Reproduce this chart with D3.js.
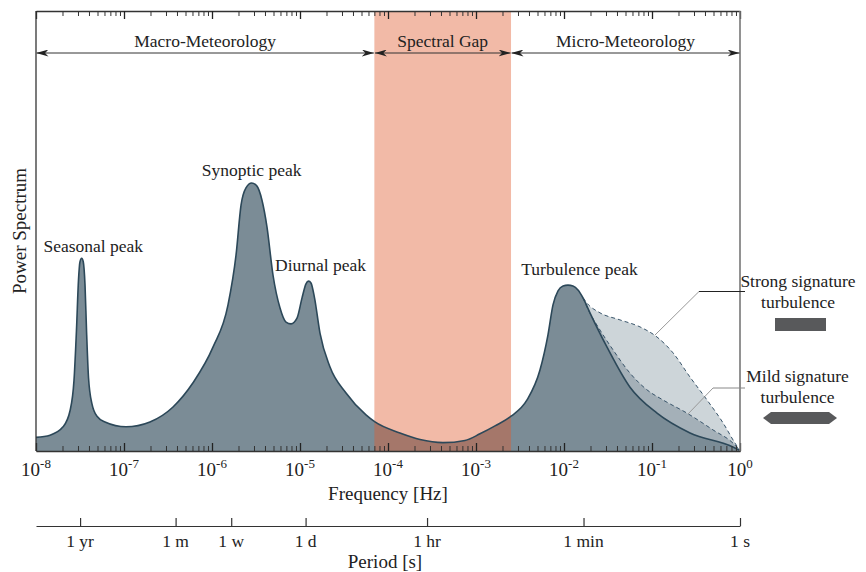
<!DOCTYPE html>
<meta charset="utf-8">
<style>
  body { margin: 0; background: #fff; }
  svg text { font-family: "Liberation Serif", "Times New Roman", serif; fill: #222; }
</style>
<body>
<div id="chart"></div>
<script src="https://cdn.jsdelivr.net/npm/d3@7"></script>
<script>
// log10 of frequency [Hz] and power (percent of plot height)
var mainLogF = [-8.000, -7.841, -7.693, -7.614, -7.568, -7.540, -7.517, -7.500, -7.481, -7.463,
  -7.443, -7.426, -7.403, -7.364, -7.307, -7.216, -6.977, -6.705, -6.443, -6.216,
  -5.989, -5.818, -5.727, -5.670, -5.614, -5.549, -5.489, -5.432, -5.375, -5.307,
  -5.227, -5.159, -5.102, -5.034, -4.977, -4.932, -4.903, -4.875, -4.835, -4.773,
  -4.659, -4.477, -4.250, -4.148, -3.864, -3.636, -3.375, -3.125, -2.955, -2.784,
  -2.602, -2.420, -2.273, -2.182, -2.125, -2.068, -2.011, -1.955, -1.898, -1.841,
  -1.784, -1.705, -1.511, -1.250, -0.943, -0.568, -0.080, 0.000];
var mainPower = [3.1, 3.6, 5.5, 9.1, 16.1, 27.5, 38.9, 43.0, 43.8, 43.0,
  37.7, 27.5, 16.6, 10.7, 7.9, 6.6, 5.5, 6.6, 10.0, 15.5,
  23.6, 33.2, 44.5, 55.9, 59.8, 60.9, 60.2, 57.0, 50.9, 40.0,
  32.5, 29.3, 28.9, 30.2, 34.8, 38.0, 38.6, 38.2, 34.8, 26.8,
  19.1, 13.2, 8.2, 6.6, 4.1, 2.6, 1.9, 2.4, 3.9, 5.7,
  7.9, 11.6, 18.4, 26.4, 33.2, 36.4, 37.5, 37.7, 37.5, 36.6,
  34.8, 31.4, 23.6, 14.5, 8.6, 4.1, 0.9, 0.1];

var strongLogF = [-1.784, -1.739, -1.591, -1.364, -1.136, -0.943, -0.761, -0.568, -0.375, -0.193, -0.057, 0.000];
var strongPower = [34.8, 33.6, 31.4, 29.8, 28.2, 25.9, 22.3, 16.8, 11.6, 6.4, 1.8, 0.1];

var mildLogF = [-1.784, -1.739, -1.591, -1.443, -1.250, -1.057, -0.875, -0.602, -0.307, -0.080, 0.000];
var mildPower = [34.8, 32.7, 27.5, 23.0, 17.7, 13.9, 11.6, 8.6, 4.8, 1.8, 0.1];

// spectral gap limits [Hz]
var gapRange = [7e-5, 2.5e-3];

var regions = [
  { name: "Macro-Meteorology", from: 1e-8, to: 7e-5 },
  { name: "Spectral Gap", from: 7e-5, to: 2.5e-3 },
  { name: "Micro-Meteorology", from: 2.5e-3, to: 1 }
];

var peakNames = ["Seasonal peak", "Synoptic peak", "Diurnal peak", "Turbulence peak"];
var peakLogF = [-7.349, -5.549, -4.767, -1.824];
var peakPower = [45.3, 62.6, 40.9, 40.0];

var decades = [-8, -7, -6, -5, -4, -3, -2, -1, 0];

var periodLabels = ["1 yr", "1 m", "1 w", "1 d", "1 hr", "1 min", "1 s"];
var periodSeconds = [31557600, 2592000, 604800, 86400, 3600, 60, 1];

var svg = d3.select("#chart").append("svg")
  .attr("width", 866).attr("height", 572);

var x = d3.scaleLog().domain([1e-8, 1]).range([36, 740]);
var y = d3.scaleLinear().domain([0, 100]).range([451, 11]);

function toPts(lf, pw) {
  return lf.map(function (v, i) { return { f: Math.pow(10, v), p: pw[i] }; });
}
var mainData = toPts(mainLogF, mainPower);
var strongData = toPts(strongLogF, strongPower);
var mildData = toPts(mildLogF, mildPower);

var area = d3.area().curve(d3.curveMonotoneX)
  .x(function (d) { return x(d.f); })
  .y0(y(0))
  .y1(function (d) { return y(d.p); });
var line = d3.line().curve(d3.curveMonotoneX)
  .x(function (d) { return x(d.f); })
  .y(function (d) { return y(d.p); });

// fills
svg.append("path").datum(strongData).attr("d", area).attr("fill", "#cdd5d9");
svg.append("path").datum(mildData).attr("d", area).attr("fill", "#a4b0b8");
svg.append("path").datum(mainData).attr("d", area).attr("fill", "#7b8c96");

// spectral gap
svg.append("rect")
  .attr("x", x(gapRange[0])).attr("y", y(100))
  .attr("width", x(gapRange[1]) - x(gapRange[0]))
  .attr("height", y(0) - y(100))
  .attr("fill", "rgb(224,90,45)").attr("fill-opacity", 0.42);

// outlines
svg.append("path").datum(strongData).attr("d", line)
  .attr("fill", "none").attr("stroke", "#38546a").attr("stroke-width", 1).attr("stroke-dasharray", "4,3");
svg.append("path").datum(mildData).attr("d", line)
  .attr("fill", "none").attr("stroke", "#38546a").attr("stroke-width", 1).attr("stroke-dasharray", "4,3");
svg.append("path").datum(mainData).attr("d", line)
  .attr("fill", "none").attr("stroke", "#2c4859").attr("stroke-width", 1.6);

// axes
var majors = decades.map(function (d) { return Math.pow(10, d); });
var minors = [];
decades.slice(0, -1).forEach(function (d) {
  for (var k = 2; k <= 9; k++) minors.push(k * Math.pow(10, d));
});

function addAxis(axisFn, ypos) {
  svg.append("g").attr("transform", "translate(0," + ypos + ")")
    .call(axisFn(x).tickValues(minors).tickSize(5).tickSizeOuter(0).tickFormat(""))
    .call(function (g) { g.selectAll("line,path").attr("stroke", "#333"); });
  svg.append("g").attr("transform", "translate(0," + ypos + ")")
    .call(axisFn(x).tickValues(majors).tickSize(8).tickSizeOuter(0).tickFormat(""))
    .call(function (g) {
      g.selectAll("line").attr("stroke", "#222").attr("stroke-width", 1.3);
      g.select("path").attr("stroke", "#333").attr("stroke-width", 1.3);
    });
}
addAxis(d3.axisBottom, y(100));
addAxis(d3.axisTop, y(0));

svg.append("line").attr("x1", x(1e-8)).attr("x2", x(1e-8)).attr("y1", y(100)).attr("y2", y(0))
  .attr("stroke", "#333").attr("stroke-width", 1.3);
svg.append("line").attr("x1", x(1)).attr("x2", x(1)).attr("y1", y(100)).attr("y2", y(0))
  .attr("stroke", "#777").attr("stroke-width", 1.6);

// tick labels 10^n
var tl = svg.append("g").selectAll("text").data(decades).enter().append("text")
  .attr("x", function (d) { return x(Math.pow(10, d)); })
  .attr("y", 476)
  .attr("text-anchor", "middle")
  .style("font-size", "19px");
tl.append("tspan").text("10");
tl.append("tspan").attr("dy", -8).style("font-size", "13px").text(function (d) { return d; });

svg.append("text").attr("x", 388).attr("y", 500).attr("text-anchor", "middle")
  .style("font-size", "19px").text("Frequency [Hz]");

svg.append("text").attr("transform", "translate(25.5," + ((y(0) + y(100)) / 2) + ") rotate(-90)")
  .attr("text-anchor", "middle").style("font-size", "19px").text("Power Spectrum");

// period axis
var per = d3.scaleLog().domain([1e8, 1]).range([36, 740]);
svg.append("g").attr("transform", "translate(0,526)")
  .call(d3.axisTop(per).tickValues(periodSeconds).tickSize(8).tickSizeOuter(0).tickFormat(""))
  .call(function (g) { g.selectAll("line,path").attr("stroke", "#333").attr("stroke-width", 1.2); });
svg.append("g").selectAll("text").data(periodSeconds).enter().append("text")
  .attr("x", function (d) { return per(d); })
  .attr("y", 547)
  .attr("text-anchor", "middle")
  .style("font-size", "17.5px")
  .text(function (d, i) { return periodLabels[i]; });
svg.append("text").attr("x", 385).attr("y", 568).attr("text-anchor", "middle")
  .style("font-size", "19px").text("Period [s]");

// region arrows
var defs = svg.append("defs");
defs.append("marker").attr("id", "arr")
  .attr("viewBox", "0 0 12 7").attr("refX", 12).attr("refY", 3.5)
  .attr("markerWidth", 12).attr("markerHeight", 7)
  .attr("markerUnits", "userSpaceOnUse").attr("orient", "auto-start-reverse")
  .append("path").attr("d", "M0,0 L12,3.5 L0,7 L3.5,3.5 Z").attr("fill", "#222");

var rg = svg.append("g").selectAll("g").data(regions).enter().append("g");
rg.append("line")
  .attr("x1", function (d) { return x(d.from) + 0.5; })
  .attr("x2", function (d) { return x(d.to) - 0.5; })
  .attr("y1", 53).attr("y2", 53)
  .attr("stroke", "#333").attr("stroke-width", 1)
  .attr("marker-start", "url(#arr)").attr("marker-end", "url(#arr)");
rg.append("text")
  .attr("x", function (d) { return (x(d.from) + x(d.to)) / 2; })
  .attr("y", 47)
  .attr("text-anchor", "middle")
  .style("font-size", "17.5px")
  .text(function (d) { return d.name; });

// peak labels
svg.append("g").selectAll("text").data(peakNames).enter().append("text")
  .attr("x", function (d, i) { return x(Math.pow(10, peakLogF[i])); })
  .attr("y", function (d, i) { return y(peakPower[i]); })
  .attr("text-anchor", "middle")
  .style("font-size", "17.5px")
  .text(function (d) { return d; });

// legend
var lg = svg.append("g");
lg.append("text").attr("x", 798).attr("y", 287).attr("text-anchor", "middle").style("font-size", "17.5px").text("Strong signature");
lg.append("text").attr("x", 798).attr("y", 308).attr("text-anchor", "middle").style("font-size", "17.5px").text("turbulence");
lg.append("rect").attr("x", 775).attr("y", 318).attr("width", 51).attr("height", 13).attr("fill", "#58595b");
lg.append("text").attr("x", 797.5).attr("y", 382).attr("text-anchor", "middle").style("font-size", "17.5px").text("Mild signature");
lg.append("text").attr("x", 797.5).attr("y", 403).attr("text-anchor", "middle").style("font-size", "17.5px").text("turbulence");
lg.append("path").attr("d", "M763,418 L771,412 L829,412 L837,418 L829,424 L771,424 Z").attr("fill", "#58595b");

// leader lines
lg.append("line").attr("x1", 699).attr("y1", 291.5).attr("x2", 745).attr("y2", 291.5).attr("stroke", "#222").attr("stroke-width", 1);
lg.append("line").attr("x1", 699).attr("y1", 291.5).attr("x2", 655).attr("y2", 335).attr("stroke", "#999").attr("stroke-width", 1);
lg.append("line").attr("x1", 713).attr("y1", 388).attr("x2", 745).attr("y2", 388).attr("stroke", "#888").attr("stroke-width", 1);
lg.append("line").attr("x1", 713).attr("y1", 388).attr("x2", 688).attr("y2", 414).attr("stroke", "#999").attr("stroke-width", 1);
</script>
</body>
